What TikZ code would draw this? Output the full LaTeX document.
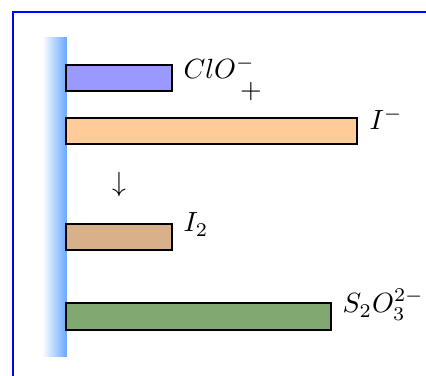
\documentclass[tikz,border=0pt]{standalone}
\definecolor{cloC}{HTML}{9999FF}
\definecolor{iC}{HTML}{FFCC99}
\definecolor{itwoC}{HTML}{D8B08A}
\definecolor{sC}{HTML}{80A870}
\definecolor{wallC}{HTML}{66A8FF}
\begin{document}
\begin{tikzpicture}[x=0.36pt,y=-0.36pt,
  bar/.style={draw=black,line width=0.4pt},
  lbl/.style={anchor=base west,inner sep=0pt}]
\useasboundingbox (0,0) rectangle (426,376);
% frame
\draw[blue,line width=0.6pt] (13,376) -- (13,12) -- (426,12);
% wall
\shade[left color=white,right color=wallC] (42,38) rectangle (67,357);
% bars
\draw[bar,fill=cloC] (66,65) rectangle (172,91);
\draw[bar,fill=iC] (66,118) rectangle (357,144);
\draw[bar,fill=itwoC] (66,224) rectangle (172,250);
\draw[bar,fill=sC] (66,303) rectangle (331,330);
% labels
\node[lbl] (clo) at (183,79) {$ClO^-$};
\node[inner sep=0pt] (plus) at (251,92) {$+$};
\node[lbl] (iminus) at (369,130) {$I^-$};
\node[inner sep=0pt] (arr) at (119,185) {$\downarrow$};
\node[lbl] (itwo) at (183,232) {$I_2$};
\node[lbl] (sto) at (342,313) {$S_2O_3^{2-}$};
\end{tikzpicture}
\end{document}
